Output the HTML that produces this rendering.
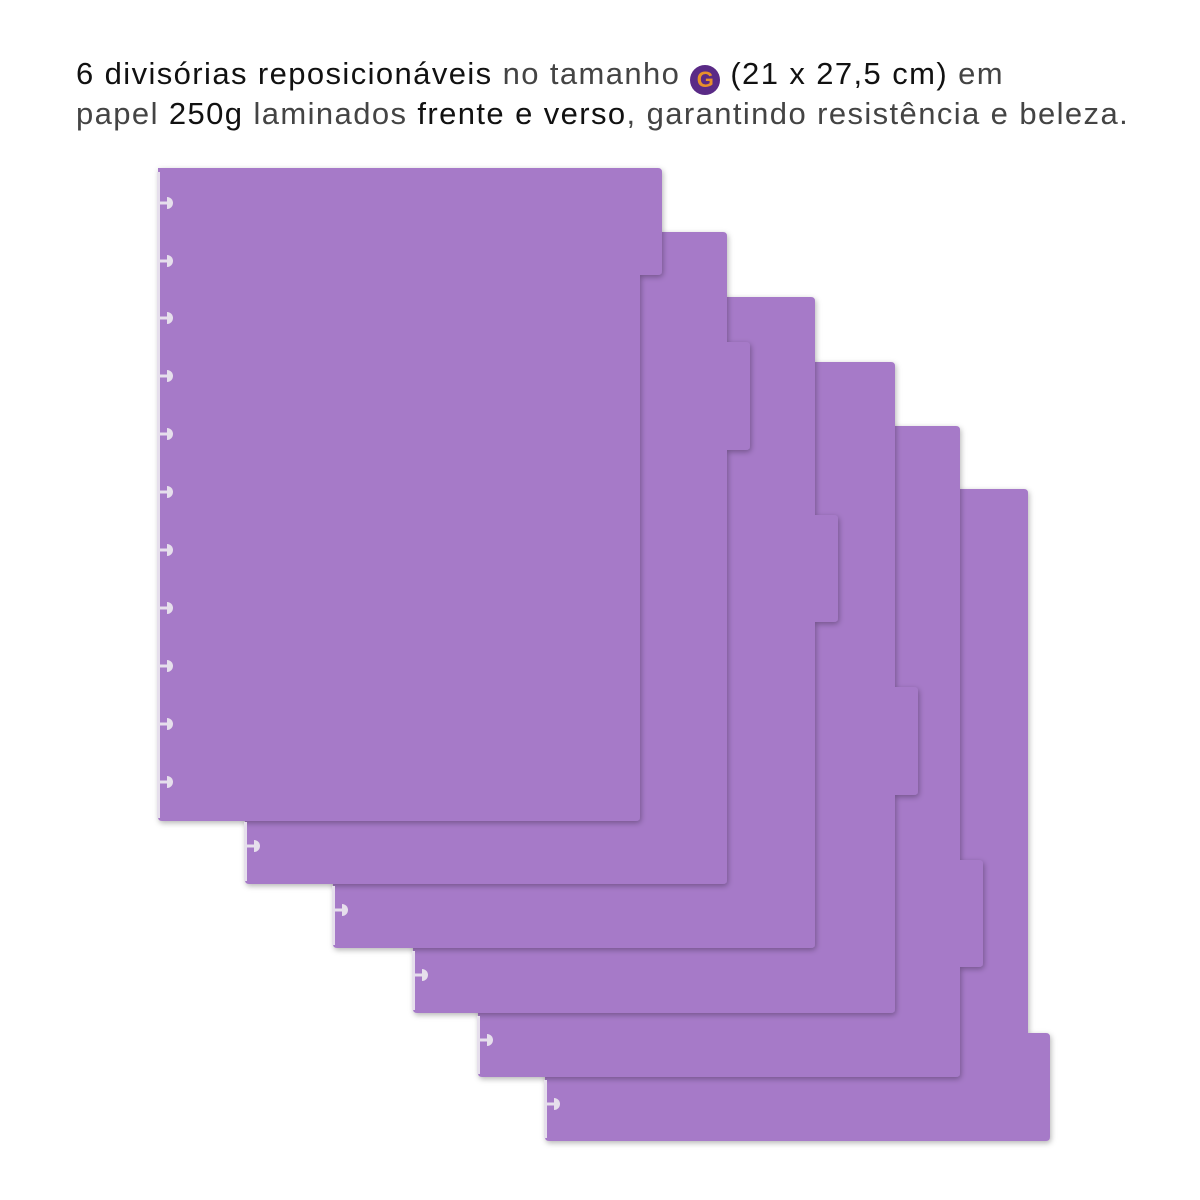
<!DOCTYPE html>
<html><head><meta charset="utf-8"><style>
html,body{margin:0;padding:0;background:#fff;}
body{width:1200px;height:1200px;position:relative;overflow:hidden;font-family:"Liberation Sans",sans-serif;}
.t{position:absolute;left:76px;font-size:31px;color:#222;white-space:nowrap;font-weight:300;letter-spacing:1.4px}
.t b{font-weight:normal;color:#111}
.l{color:#444}
.g{display:inline-block;width:30px;height:30px;border-radius:50%;background:#5a2a86;color:#e8902a;font-weight:bold;font-size:22px;text-align:center;line-height:30px;vertical-align:-3px;letter-spacing:0}
svg{position:absolute;left:0;top:0}
path.p{fill:#a67ac8;filter:url(#s)}
</style></head><body>
<div class="t" style="top:56px"><b>6 divisórias reposicionáveis</b> <span class="l">no tamanho</span> <span class="g">G</span> <b>(21 x 27,5 cm)</b> <span class="l">em</span></div>
<div class="t" style="top:96px"><span class="l">papel</span> <b>250g</b> <span class="l">laminados</span> <b>frente e verso</b><span class="l">, garantindo resistência e beleza.</span></div>
<svg width="1200" height="1200">
<defs><filter id="s" x="-10%" y="-10%" width="130%" height="130%"><feDropShadow dx="1" dy="2" stdDeviation="3" flood-color="#000" flood-opacity="0.3"/></filter>
<g id="h"><rect x="0" y="-1.5" width="10" height="3"/><path d="M9 -6 A6 6 0 0 1 9 6 Z"/></g></defs>
<path class="p" d="M545 489 H1024 q4 0 4 4 V1033 H1046 q4 0 4 4 V1137 q0 4 -4 4 H549 q-4 0 -4 -4 Z"/>
<path class="p" d="M478 426 H956 q4 0 4 4 V860 H979 q4 0 4 4 V963 q0 4 -4 4 H960 V1073 q0 4 -4 4 H482 q-4 0 -4 -4 Z"/>
<path class="p" d="M413 362 H891 q4 0 4 4 V687 H914 q4 0 4 4 V791 q0 4 -4 4 H895 V1009 q0 4 -4 4 H417 q-4 0 -4 -4 Z"/>
<path class="p" d="M333 297 H811 q4 0 4 4 V515 H834 q4 0 4 4 V618 q0 4 -4 4 H815 V944 q0 4 -4 4 H337 q-4 0 -4 -4 Z"/>
<path class="p" d="M245 232 H723 q4 0 4 4 V342 H746 q4 0 4 4 V446 q0 4 -4 4 H727 V880 q0 4 -4 4 H249 q-4 0 -4 -4 Z"/>
<path class="p" d="M158 168 H658 q4 0 4 4 V271 q0 4 -4 4 H640 V817 q0 4 -4 4 H162 q-4 0 -4 -4 Z"/>
<g fill="#e6dfec">
<rect x="157" y="172" width="3" height="646"/>
<rect x="244" y="822" width="3" height="59"/>
<rect x="332" y="886" width="3" height="59"/>
<rect x="412" y="951" width="3" height="59"/>
<rect x="477" y="1016" width="3" height="58"/>
<rect x="544" y="1080" width="3" height="58"/>
<use href="#h" x="158" y="203"/><use href="#h" x="158" y="261"/><use href="#h" x="158" y="318"/><use href="#h" x="158" y="376"/><use href="#h" x="158" y="434"/><use href="#h" x="158" y="492"/><use href="#h" x="158" y="550"/><use href="#h" x="158" y="608"/><use href="#h" x="158" y="666"/><use href="#h" x="158" y="724"/><use href="#h" x="158" y="782"/>
<use href="#h" x="245" y="846"/><use href="#h" x="333" y="910"/><use href="#h" x="413" y="975"/><use href="#h" x="478" y="1040"/><use href="#h" x="545" y="1104"/>
</g>
</svg>
</body></html>
